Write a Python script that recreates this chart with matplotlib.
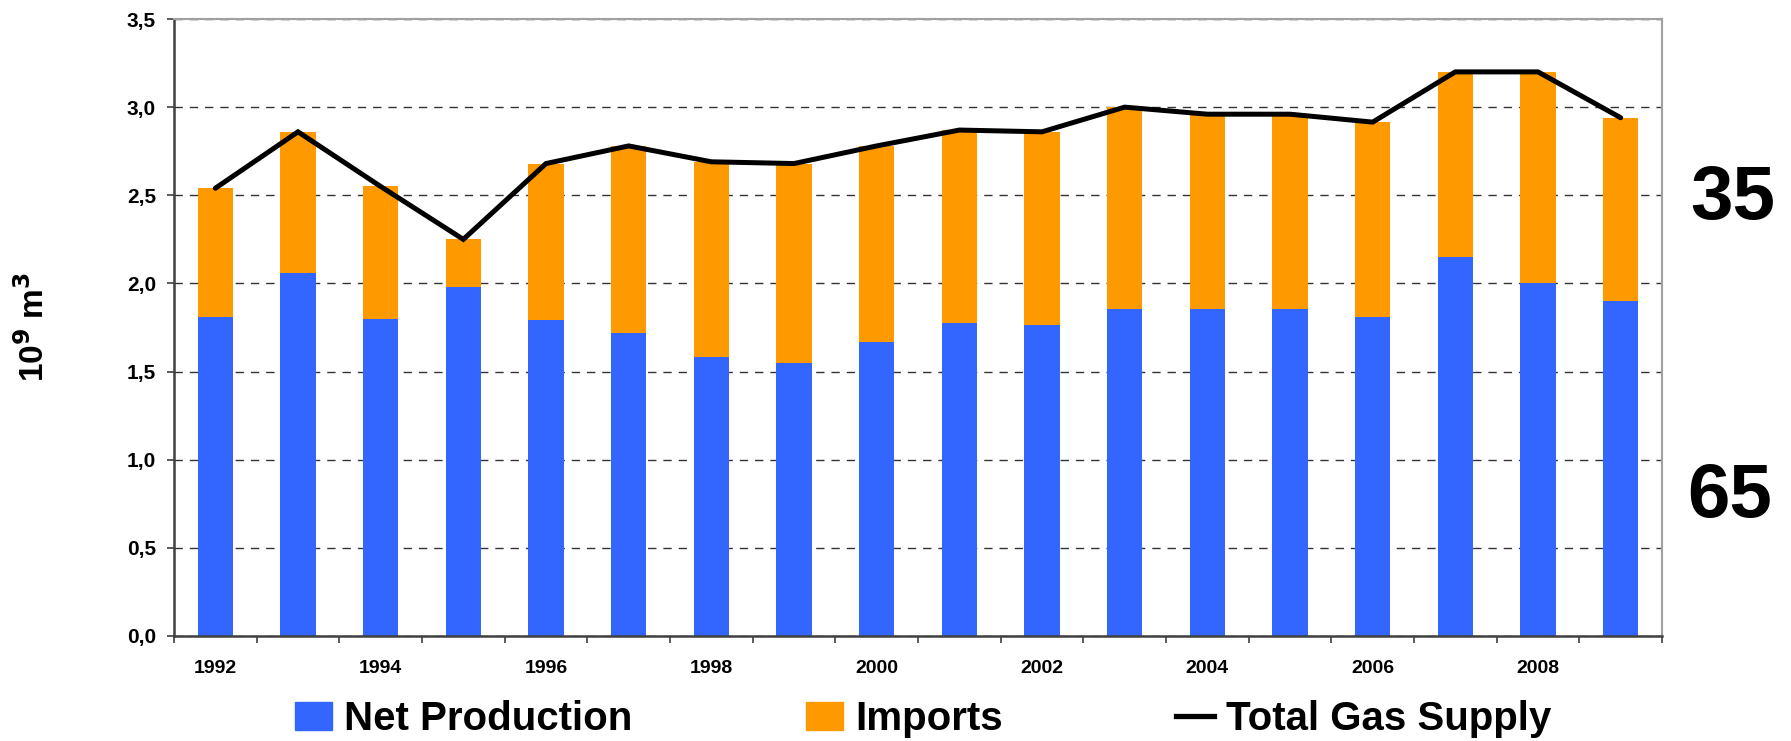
import numpy as np
import matplotlib.pyplot as plt
from matplotlib.patches import Patch
from matplotlib.lines import Line2D
from matplotlib.ticker import FuncFormatter, FixedLocator

plt.rcParams['font.family'] = ['Liberation Sans', 'DejaVu Sans']
plt.rcParams['font.weight'] = 'bold'

# values (10^9 m^3)
years = list(range(1992, 2010))
net_production = [1.81, 2.06, 1.80, 1.98, 1.79, 1.72, 1.58, 1.55, 1.67,
                  1.775, 1.765, 1.855, 1.855, 1.855, 1.81, 2.15, 2.00, 1.90]
total_supply = [2.54, 2.86, 2.55, 2.25, 2.68, 2.78, 2.69, 2.68, 2.78,
                2.87, 2.86, 3.00, 2.96, 2.96, 2.915, 3.20, 3.20, 2.94]
imports = [t - p for t, p in zip(total_supply, net_production)]
shares = ['35', '65']

blue = '#3366FF'
orange = '#FF9900'

fig = plt.figure(figsize=(17.91, 7.41), dpi=100)
ax = fig.add_axes([174 / 1791, 1 - 636 / 741, (1662 - 174) / 1791, (636 - 19) / 741])

x = np.arange(len(years))
ax.bar(x, net_production, width=0.43, color=blue, zorder=2)
ax.bar(x, imports, width=0.43, bottom=net_production, color=orange, zorder=2)
ax.plot(x, total_supply, color='black', lw=3.6, zorder=3, solid_capstyle='round',
        solid_joinstyle='miter')

ax.set_xlim(-0.5, len(years) - 0.5)
ax.set_ylim(0, 3.5)

# dashed horizontal grid behind bars
ax.set_yticks(np.arange(0, 3.51, 0.5))
ax.yaxis.set_major_formatter(FuncFormatter(lambda v, p: f'{v:.1f}'.replace('.', ',')))
ax.grid(axis='y', color='#333333', lw=1, linestyle=(0, (6, 5)), zorder=1)
ax.set_axisbelow(True)

# category boundaries as tick marks, year labels every second bar
ax.xaxis.set_minor_locator(FixedLocator(np.arange(-0.5, len(years), 1.0)))
ax.set_xticks(x[::2])
ax.set_xticklabels([str(y) for y in years[::2]])
ax.tick_params(axis='x', which='major', length=0, pad=17, labelsize=14)
ax.tick_params(axis='x', which='minor', length=5, width=1.2, color='#404040')
ax.tick_params(axis='y', length=5, width=1.2, color='#404040', pad=8, labelsize=15)

for s in ['left', 'bottom']:
    ax.spines[s].set_color('#404040')
    ax.spines[s].set_linewidth(1.8)
for s in ['top', 'right']:
    ax.spines[s].set_color('#a0a0a0')
    ax.spines[s].set_linewidth(1.5)

fig.text(0.019, 1 - 327 / 741, r'10$^\mathbf{9}$ m$^\mathbf{3}$', rotation=90,
         fontsize=24, fontweight='bold', ha='center', va='center')

fig.text(1733 / 1791, 1 - 200 / 741, shares[0], fontsize=55, fontweight='bold',
         ha='center', va='center')
fig.text(1730 / 1791, 1 - 497 / 741, shares[1], fontsize=55, fontweight='bold',
         ha='center', va='center')

handles = [Patch(color=blue, label='Net Production'),
           Patch(color=orange, label='Imports'),
           Line2D([0], [0], color='black', lw=3.8, label='Total Gas Supply')]
fig.legend(handles=handles, loc='center', bbox_to_anchor=(923 / 1791, 1 - 719 / 741),
           ncol=3, frameon=False, prop={'size': 29, 'weight': 'bold'},
           handlelength=0.93, handleheight=0.7, handletextpad=0.3, columnspacing=4.3)

fig.savefig('out.png', dpi=100)
